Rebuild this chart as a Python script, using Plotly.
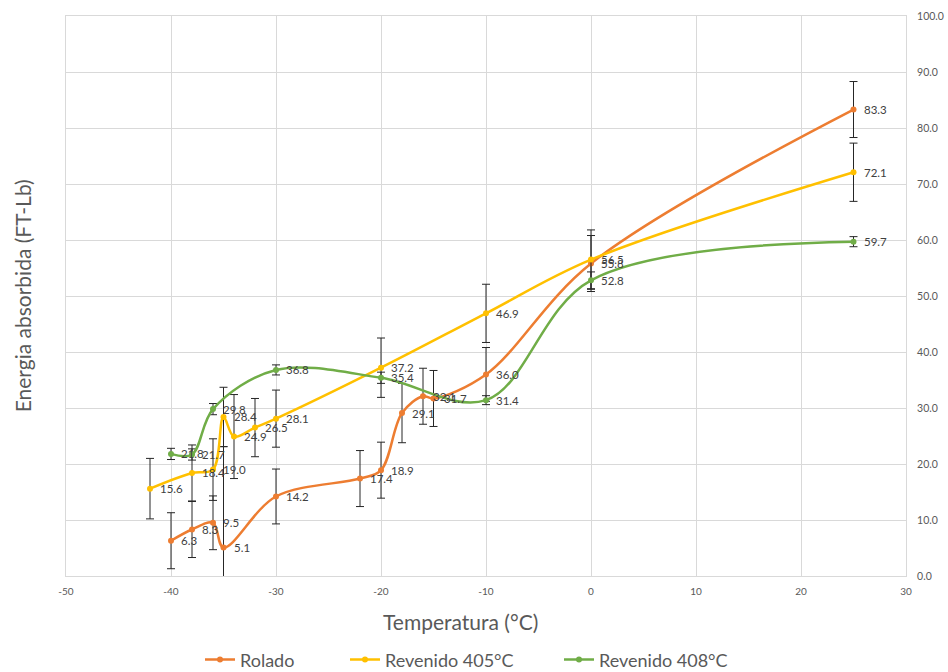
import plotly.graph_objects as go

# Charpy impact energy vs test temperature for three conditions
x_rolado = [-40, -38, -36, -35, -30, -22, -20, -18, -16, -15, -10, 0, 25]
y_rolado = [6.3, 8.3, 9.5, 5.1, 14.2, 17.4, 18.9, 29.1, 32.1, 31.7, 36.0, 55.8, 83.3]
e_rolado = [5.0, 5.0, 4.8, 18.0, 4.9, 5.0, 5.0, 5.3, 5.0, 5.0, 4.8, 5.0, 5.0]

x_rev405 = [-42, -38, -36, -35, -34, -32, -30, -20, -10, 0, 25]
y_rev405 = [15.6, 18.4, 19.0, 28.4, 24.9, 26.5, 28.1, 37.2, 46.9, 56.5, 72.1]
e_rev405 = [5.4, 5.0, 5.5, 5.3, 7.5, 5.2, 5.1, 5.3, 5.2, 5.3, 5.2]

x_rev408 = [-40, -38, -36, -30, -20, -10, 0, 25]
y_rev408 = [21.8, 21.7, 29.8, 36.8, 35.4, 31.4, 52.8, 59.7]
e_rev408 = [1.0, 1.0, 1.0, 0.9, 1.0, 0.8, 1.5, 0.9]

x_ticks = [-50, -40, -30, -20, -10, 0, 10, 20, 30]
y_ticks = [0, 10, 20, 30, 40, 50, 60, 70, 80, 90, 100]

series = [
    ("Rolado", x_rolado, y_rolado, e_rolado, "#ED7D31"),
    ("Revenido 405°C", x_rev405, y_rev405, e_rev405, "#FFC000"),
    ("Revenido 408°C", x_rev408, y_rev408, e_rev408, "#70AD47"),
]
legend_names = ["legend", "legend2", "legend3"]
legend_left = [200, 345, 559]   # left edge of each legend entry, px

W, H = 948, 672
FONT = "Lato"
TEXT = "#595959"
fig = go.Figure()

for (name, xs, ys, es, color), lg in zip(series, legend_names):
    fig.add_trace(go.Scatter(
        x=xs, y=ys, name=name, mode="lines+markers", legend=lg,
        line=dict(color=color, width=2.5, shape="spline", smoothing=1.0),
        marker=dict(color=color, size=6, symbol="circle"),
        error_y=dict(type="data", array=es, visible=True,
                     color="#262626", thickness=1, width=4),
    ))

# value labels placed just right of each point
annotations = []
for name, xs, ys, es, color in series:
    for xv, yv in zip(xs, ys):
        annotations.append(dict(
            x=xv, y=yv, xref="x", yref="y", text=f"{yv:.1f}",
            xanchor="left", yanchor="middle", xshift=8, showarrow=False,
            font=dict(family=FONT, size=11.5, color="#404040"),
        ))

# axis titles
annotations.append(dict(
    text="Energia absorbida (FT-Lb)", textangle=-90,
    xref="paper", yref="paper", x=-0.052, y=0.5,
    xanchor="center", yanchor="middle", showarrow=False,
    font=dict(family=FONT, size=21, color=TEXT),
))
annotations.append(dict(
    text="Temperatura (°C)",
    xref="paper", yref="paper", x=(460 - 66) / (W - 66 - 42), y=-45 / (H - 16 - 96),
    xanchor="center", yanchor="middle", showarrow=False,
    font=dict(family=FONT, size=21, color=TEXT),
))

legend_common = dict(orientation="h", yref="container", y=0.018, yanchor="middle",
                     xref="container", xanchor="left",
                     font=dict(family=FONT, size=18, color=TEXT),
                     itemwidth=30, bgcolor="rgba(0,0,0,0)")

fig.update_layout(
    width=W, height=H,
    margin=dict(l=66, r=42, t=16, b=96, autoexpand=False),
    paper_bgcolor="white", plot_bgcolor="white",
    font=dict(family=FONT, color=TEXT),
    showlegend=True,
    legend=dict(x=legend_left[0] / W, **legend_common),
    legend2=dict(x=legend_left[1] / W, **legend_common),
    legend3=dict(x=legend_left[2] / W, **legend_common),
    annotations=annotations,
)

fig.update_xaxes(
    range=[-50, 30], tickvals=x_ticks, ticktext=[str(t) for t in x_ticks],
    showgrid=True, gridcolor="#D9D9D9", gridwidth=1,
    showline=True, linecolor="#D9D9D9", mirror=True, zeroline=False,
    ticks="", ticklabelstandoff=6,
    tickfont=dict(family=FONT, size=10, color=TEXT),
)
fig.update_yaxes(
    range=[0, 100], tickvals=y_ticks, ticktext=[f"{t:.1f}" for t in y_ticks],
    side="right", showgrid=True, gridcolor="#D9D9D9", gridwidth=1,
    showline=True, linecolor="#D9D9D9", mirror=True, zeroline=False,
    ticks="", ticklabelstandoff=8,
    tickfont=dict(family=FONT, size=10.5, color=TEXT),
)

fig.write_html("out.html")
